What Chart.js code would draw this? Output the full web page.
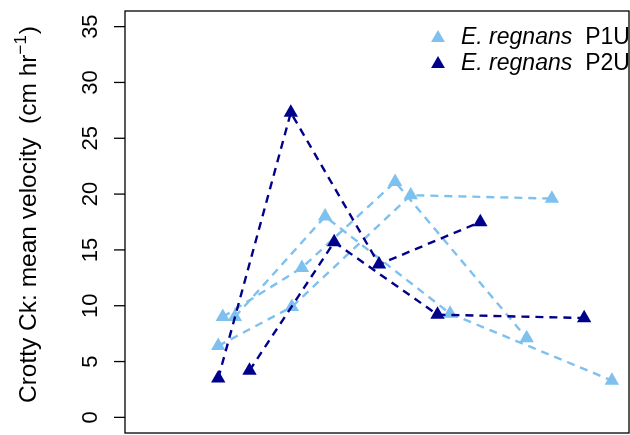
<!DOCTYPE html>
<html>
<head>
<meta charset="utf-8">
<script src="https://cdn.jsdelivr.net/npm/chart.js@4/dist/chart.umd.min.js"></script>
<style>
  html, body { margin: 0; padding: 0; background: #ffffff; }
  #wrap { width: 630px; height: 435px; }
</style>
</head>
<body>
<div id="wrap"><canvas id="c" width="630" height="435"></canvas></div>
<script>
// Mean velocity at Crotty Creek, two plot types, one dashed series per tree
const p1uA_x = [18.5, 33.1, 56.7, 84.7];
const p1uA_y = [6.4, 9.9, 19.9, 19.6];
const p1uB_x = [19.4, 35.1, 53.6, 79.7];
const p1uB_y = [9.0, 13.4, 21.1, 7.1];
const p1uC_x = [21.8, 39.7, 64.5, 96.6];
const p1uC_y = [9.0, 18.0, 9.3, 3.3];

const p2uA_x = [18.5, 32.9, 50.4, 70.5];
const p2uA_y = [3.5, 27.3, 13.7, 17.5];
const p2uB_x = [24.7, 41.5, 62.0, 91.1];
const p2uB_y = [4.2, 15.7, 9.2, 8.9];

const yTicks = [0, 5, 10, 15, 20, 25, 30, 35];
const yTitle = 'Crotty Ck: mean velocity  (cm hr';
const legendSpecies = 'E. regnans';
const legendGroups = ['P1U', 'P2U'];

const lightBlue = '#7EC0EE';
const darkBlue = '#00008B';
const FONT = '"Liberation Sans", Arial, Helvetica, sans-serif';

function pts(xs, ys) { return xs.map((x, i) => ({ x: x, y: ys[i] })); }

function series(xs, ys, color) {
  return {
    data: pts(xs, ys),
    borderColor: color,
    backgroundColor: color,
    borderWidth: 2.4,
    borderDash: [8, 6],
    pointStyle: 'triangle',
    pointRadius: 8.3,
    pointBorderWidth: 0,
    pointHoverRadius: 8.3,
    tension: 0,
    fill: false
  };
}

// frame, y ticks, rotated labels, axis title, legend
const framePlugin = {
  id: 'frame',
  beforeDatasetsDraw(chart) {
    const ctx = chart.ctx;
    const a = chart.chartArea;
    const ys = chart.scales.y;
    ctx.save();
    ctx.strokeStyle = '#000';
    ctx.lineWidth = 1.3;
    ctx.strokeRect(a.left, a.top, a.right - a.left, a.bottom - a.top);
    ctx.fillStyle = '#000';
    ctx.font = '22px ' + FONT;
    ctx.textAlign = 'center';
    ctx.textBaseline = 'middle';
    yTicks.forEach(v => {
      const py = ys.getPixelForValue(v);
      ctx.beginPath();
      ctx.moveTo(a.left, py);
      ctx.lineTo(a.left - 11, py);
      ctx.stroke();
      ctx.save();
      ctx.translate(91, py);
      ctx.rotate(-Math.PI / 2);
      ctx.fillText(String(v), 0, 0);
      ctx.restore();
    });
    // axis title with superscript
    const cy = (a.top + a.bottom) / 2 - 7;
    ctx.save();
    ctx.translate(29, cy);
    ctx.rotate(-Math.PI / 2);
    ctx.textBaseline = 'middle';
    ctx.textAlign = 'left';
    ctx.font = '24.5px ' + FONT;
    const w1 = ctx.measureText(yTitle).width;
    ctx.font = '17px ' + FONT;
    const w2 = ctx.measureText('\u22121').width;
    ctx.font = '24.5px ' + FONT;
    const w3 = ctx.measureText(')').width;
    const start = -(w1 + w2 + w3) / 2;
    ctx.fillText(yTitle, start, 0);
    ctx.font = '17px ' + FONT;
    ctx.fillText('\u22121', start + w1, -8);
    ctx.font = '24.5px ' + FONT;
    ctx.fillText(')', start + w1 + w2 + 1, 0);
    ctx.restore();
    ctx.restore();
  },
  afterDatasetsDraw(chart) {
    const ctx = chart.ctx;
    const colors = [lightBlue, darkBlue];
    ctx.save();
    legendGroups.forEach((g, i) => {
      const ly = 38 + i * 26;
      ctx.fillStyle = colors[i];
      ctx.beginPath();
      const r = 8, x = 438, y = ly;
      ctx.moveTo(x, y - r);
      ctx.lineTo(x + r * Math.sin(2 * Math.PI / 3), y + r / 2);
      ctx.lineTo(x - r * Math.sin(2 * Math.PI / 3), y + r / 2);
      ctx.closePath();
      ctx.fill();
      ctx.fillStyle = '#000';
      ctx.textBaseline = 'middle';
      ctx.textAlign = 'left';
      ctx.font = 'italic 23px ' + FONT;
      ctx.fillText(legendSpecies, 461, ly);
      const w = ctx.measureText(legendSpecies).width;
      ctx.font = '23px ' + FONT;
      ctx.fillText(g, 461 + w + 13, ly);
    });
    ctx.restore();
  }
};

new Chart(document.getElementById('c'), {
  type: 'line',
  data: {
    datasets: [
      series(p2uA_x, p2uA_y, darkBlue),
      series(p2uB_x, p2uB_y, darkBlue),
      series(p1uA_x, p1uA_y, lightBlue),
      series(p1uB_x, p1uB_y, lightBlue),
      series(p1uC_x, p1uC_y, lightBlue)
    ]
  },
  options: {
    responsive: false,
    animation: false,
    events: [],
    layout: { autoPadding: false, padding: { left: 125, top: 11, right: 1, bottom: 2 } },
    plugins: { legend: { display: false }, tooltip: { enabled: false } },
    scales: {
      x: { type: 'linear', min: 0, max: 100, display: false },
      y: { type: 'linear', min: -1.4, max: 36.4, display: false }
    }
  },
  plugins: [framePlugin]
});
</script>
</body>
</html>
